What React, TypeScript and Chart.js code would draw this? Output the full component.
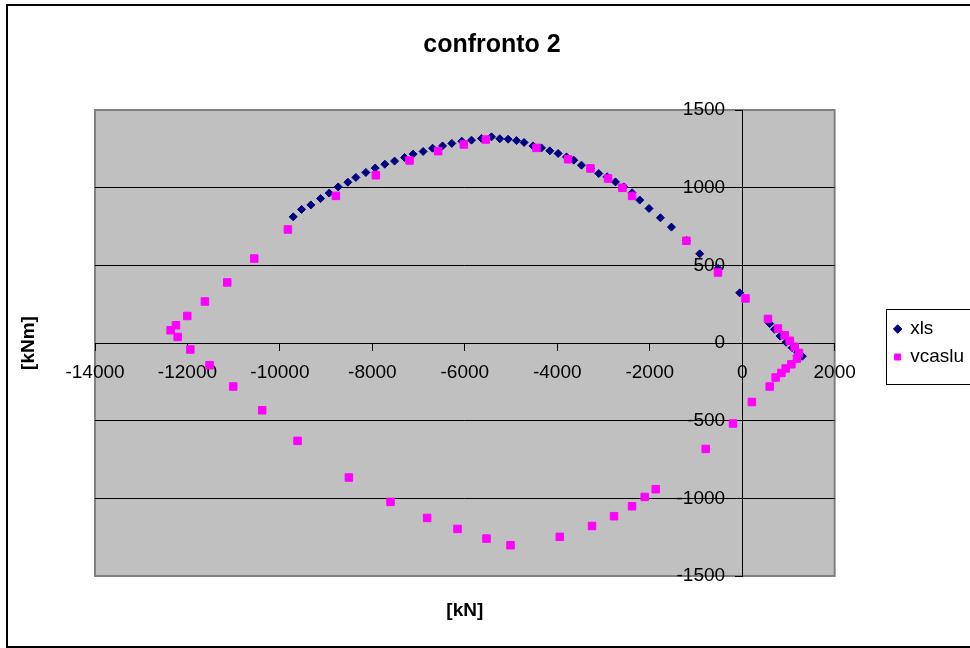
import React, { useEffect, useRef } from 'react';
import { Chart, registerables } from 'chart.js';

Chart.register(...registerables);

// ---- data ----
const TITLE = 'confronto 2';
const X_TITLE = '[kN]';
const Y_TITLE = '[kNm]';
const SERIES_NAMES = ['xls', 'vcaslu'];

const X_MIN = -14000;
const X_MAX = 2000;
const X_STEP = 2000;
const Y_MIN = -1500;
const Y_MAX = 1500;
const Y_STEP = 500;
// value-axis labels sit a little to the left of the N = 0 axis line
const Y_LABEL_AT_N = -370;

const xlsN = [-9712, -9531, -9330, -9120, -8934, -8739, -8530, -8357, -8141, -7939, -7730, -7520, -7304, -7118, -6902, -6698, -6482, -6281, -6065, -5855, -5639, -5423, -5243, -5063, -4882, -4718, -4524, -4342, -4162, -3982, -3801, -3643, -3477, -3282, -3103, -2923, -2741, -2562, -2382, -2216, -2015, -1769, -1531, -1207, -919, -523, -54, 595, 700, 820, 950, 1080, 1200, 1301];
const xlsM = [812, 860, 889, 930, 965, 1005, 1035, 1066, 1098, 1126, 1151, 1171, 1194, 1216, 1233, 1254, 1269, 1285, 1299, 1306, 1317, 1327, 1315, 1312, 1303, 1291, 1269, 1256, 1237, 1220, 1198, 1177, 1145, 1124, 1091, 1070, 1037, 1005, 967, 920, 866, 806, 746, 660, 574, 480, 323, 125, 88, 45, 5, -30, -60, -85];

const vcasluN = [1228, 1135, 1027, 919, 774, 558, 72, -523, -1207, -2382, -2591, -2901, -3282, -3766, -4450, -5546, -6022, -6577, -7196, -7924, -8789, -9827, -10555, -11139, -11622, -12004, -12249, -12364, -12212, -11938, -11522, -11010, -10383, -9618, -8508, -7607, -6815, -6158, -5531, -5012, -3946, -3248, -2772, -2382, -2108, -1870, -789, -199, 210, 595, 724, 848, 941, 1064, 1185];
const vcasluM = [-64, -25, 14, 50, 93, 155, 287, 454, 658, 947, 999, 1059, 1124, 1183, 1256, 1310, 1278, 1235, 1175, 1080, 947, 731, 544, 390, 267, 174, 114, 82, 39, -42, -143, -280, -433, -630, -866, -1023, -1126, -1197, -1259, -1302, -1248, -1178, -1115, -1051, -991, -941, -682, -518, -380, -280, -222, -193, -164, -137, -100];

const FONT = "'Liberation Sans', Arial, Helvetica, sans-serif";

const zip = (xs: number[], ys: number[]) => xs.map((x, i) => ({ x, y: ys[i] }));

const framePlugin = {
  id: 'excelFrame',
  beforeDraw(chart: any) {
    const { ctx, chartArea: a } = chart;
    ctx.save();
    ctx.strokeStyle = '#000';
    ctx.lineWidth = 2;
    ctx.strokeRect(7, 5, 1200, 642);
    ctx.fillStyle = '#C0C0C0';
    ctx.fillRect(a.left, a.top, a.right - a.left, a.bottom - a.top);
    ctx.strokeStyle = '#808080';
    ctx.lineWidth = 2;
    ctx.strokeRect(a.left, a.top, a.right - a.left, a.bottom - a.top);
    ctx.restore();
  },
  afterDraw(chart: any) {
    const lg = chart.legend;
    if (!lg || !lg.legendHitBoxes || !lg.legendHitBoxes.length) return;
    const hb = lg.legendHitBoxes;
    const { ctx } = chart;
    const left = Math.round(lg.left) + 0.5;
    const top = Math.round(hb[0].top - 11) + 0.5;
    const last = hb[hb.length - 1];
    const bottom = Math.round(last.top + last.height + 17) + 0.5;
    ctx.save();
    ctx.strokeStyle = '#000';
    ctx.lineWidth = 1;
    ctx.strokeRect(left, top, 1200, bottom - top);
    ctx.restore();
  },
};

export default function App() {
  const ref = useRef<HTMLCanvasElement | null>(null);

  useEffect(() => {
    document.body.style.margin = '0';
    if (!ref.current) return;
    const tickFont = { family: FONT, size: 19 };
    const chart = new Chart(ref.current, {
      type: 'scatter',
      data: {
        datasets: [
          {
            label: SERIES_NAMES[0],
            data: zip(xlsN, xlsM),
            pointStyle: 'rectRot',
            pointRadius: 4,
            pointHoverRadius: 4,
            backgroundColor: '#000080',
            borderColor: '#000080',
            borderWidth: 1,
            order: 1,
          },
          {
            label: SERIES_NAMES[1],
            data: zip(vcasluN, vcasluM),
            pointStyle: 'rect',
            pointRadius: 5.3,
            pointHoverRadius: 5.3,
            backgroundColor: '#FF00FF',
            borderColor: '#FF00FF',
            borderWidth: 1,
            order: 0,
          },
        ],
      },
      options: {
        responsive: false,
        animation: false,
        devicePixelRatio: 1,
        layout: { padding: { top: 0, left: 10, right: 12, bottom: 10 } },
        plugins: {
          title: {
            display: true,
            text: TITLE,
            color: '#000',
            font: { family: FONT, size: 25, weight: 'bold', lineHeight: 1.2 },
            padding: { top: 30, bottom: 50 },
          },
          legend: {
            display: true,
            position: 'right',
            fullSize: false,
            align: 'center',
            labels: {
              usePointStyle: true,
              boxWidth: 6,
              boxHeight: 6,
              padding: 9,
              color: '#000',
              font: { family: FONT, size: 19 },
              sort: (a: any, b: any) => a.datasetIndex - b.datasetIndex,
            },
          },
          tooltip: { enabled: false },
        },
        scales: {
          x: {
            type: 'linear',
            position: { y: 0 },
            min: X_MIN,
            max: X_MAX,
            ticks: {
              stepSize: X_STEP,
              autoSkip: false,
              maxRotation: 0,
              minRotation: 0,
              padding: 11,
              color: '#000',
              font: tickFont,
              callback: (v: any) => String(v),
            },
            grid: { display: true, drawOnChartArea: false, drawTicks: true, tickLength: 7, color: '#000' },
            border: { display: true, color: '#000', width: 1 },
          },
          y: {
            type: 'linear',
            position: { x: 0 },
            min: Y_MIN,
            max: Y_MAX,
            ticks: { stepSize: Y_STEP, autoSkip: false, display: false },
            grid: {
              display: true,
              drawOnChartArea: true,
              drawTicks: true,
              tickLength: 7,
              color: (c: any) => (c.tick && Math.abs(c.tick.value) === Y_MAX ? 'rgba(0,0,0,0)' : '#000'),
              tickColor: '#000',
            },
            border: { display: true, color: '#000', width: 1 },
          },
          yLab: {
            type: 'linear',
            axis: 'y',
            position: { x: Y_LABEL_AT_N },
            min: Y_MIN,
            max: Y_MAX,
            ticks: {
              stepSize: Y_STEP,
              autoSkip: false,
              color: '#000',
              font: tickFont,
              callback: (v: any) => String(v),
            },
            grid: { display: false, drawTicks: false },
            border: { display: false },
          },
          xBottom: {
            type: 'linear',
            axis: 'x',
            position: 'bottom',
            display: true,
            ticks: { display: false },
            grid: { display: false, drawTicks: false },
            border: { display: false },
            title: {
              display: true,
              text: X_TITLE,
              color: '#000',
              font: { family: FONT, size: 19, weight: 'bold', lineHeight: 1.2 },
              padding: { top: 0, bottom: 15.6 },
            },
            afterFit: (s: any) => { s.height = 62; },
          },
          yLeft: {
            type: 'linear',
            axis: 'y',
            position: 'left',
            display: true,
            ticks: { display: false },
            grid: { display: false, drawTicks: false },
            border: { display: false },
            title: {
              display: true,
              text: Y_TITLE,
              color: '#000',
              font: { family: FONT, size: 19, weight: 'bold', lineHeight: 1.2 },
              padding: { top: 7.6, bottom: 0 },
            },
            afterFit: (s: any) => { s.width = 85; },
          },
          yRight: {
            type: 'linear',
            axis: 'y',
            position: 'right',
            display: true,
            ticks: { display: false },
            grid: { display: false, drawTicks: false },
            border: { display: false },
            afterFit: (s: any) => { s.width = 51; },
          },
        },
      } as any,
      plugins: [framePlugin],
    });
    return () => chart.destroy();
  }, []);

  return (
    <div style={{ position: 'relative', width: 970, height: 648, overflow: 'hidden', background: '#fff' }}>
      <canvas ref={ref} width={986} height={648} style={{ display: 'block', width: 986, height: 648 }} />
    </div>
  );
}
